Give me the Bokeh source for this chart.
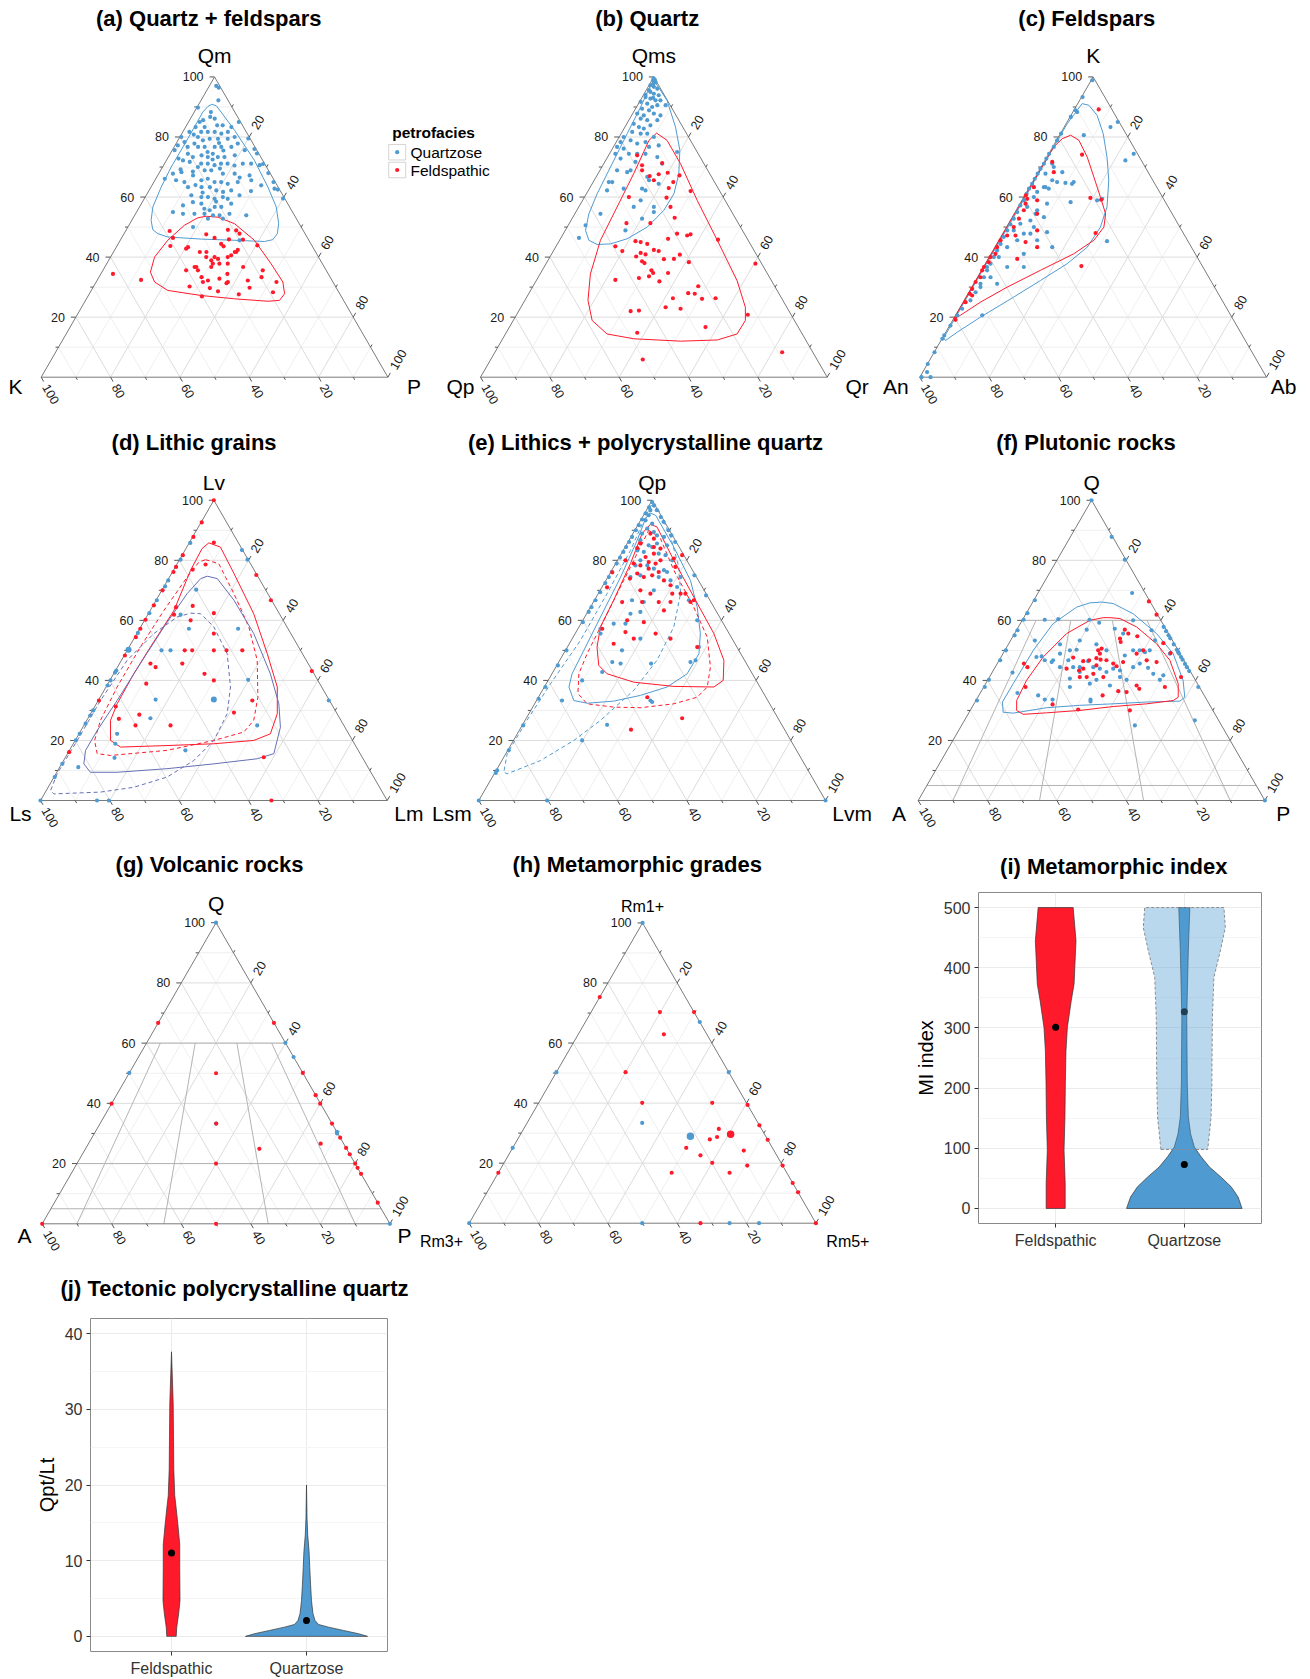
import numpy as np
from bokeh.plotting import figure
from bokeh.layouts import column, row
from bokeh.models import Range1d, FixedTicker
from bokeh.embed import file_html
from bokeh.resources import INLINE
from bokeh.core.properties import value

FONT = "Liberation Sans"
BLUE = "#4F9BD1"
RED = "#FF1A2B"
PURPLE = "#6670B5"

PETROFACIES = ["Quartzose", "Feldspathic"]
VIOLIN_CATS = ["Feldspathic", "Quartzose"]
TICK_VALUES = [20, 40, 60, 80, 100]
MINOR_VALUES = [10, 30, 50, 70, 90]
QAPF_Q = [60, 20, 5]
QAPF_RATIO = [10, 35, 65, 90]

# ---------------- data: (T, R) pairs in percent, L = 100 - T - R ----------------
# (a) Qm (top), K (left), P (right)
A_QTZ = [(97,2),(96.4,3.0),(92.2,5.0),(89.8,0.3),(88.3,4.8),(85.6,3.9),(86.7,5.4),(86.1,7.0),(85,3.2),(83.3,2.9),(83.3,5.5),(83.9,8.8),(83.9,10.4),(83.3,13.2),(85,14.5),(81.7,5.3),(81.7,7.2),(81.7,9.2),(81.1,11.4),(81.7,13),(80,15.8),(81.7,1.9),(80,5.2),(78.9,7.2),(79.4,8.9),(79.4,11.3),(79.4,14.1),(77.8,17.8),(79.5,20),(80,0.4),(77.2,0.8),(75.6,0.7),(76.7,3.9),(76.7,6.9),(76.7,8.8),(76.7,11.7),(76.7,13.6),(76.7,16.5),(74.4,5.1),(73.3,7.1),(73.9,9.3),(73.3,11.4),(74.4,12.3),(73.3,14.3),(73.3,16.2),(73.9,18.9),(75.6,20.9),(76,23.5),(74.5,25),(72.2,4.8),(71.1,10.6),(71.1,12.5),(70.6,14.7),(71.1,16.3),(71.1,18.2),(71.1,22.6),(71.1,25),(70.6,27.7),(71,28.5),(67.8,4.1),(68.3,6.3),(71.7,7),(70,10.2),(68.9,12.7),(68.9,14.6),(67.8,18.5),(67.8,21.9),(67.2,26.5),(68,31.5),(66.1,2.6),(65.6,6.1),(65,8.8),(67.2,10.2),(65.6,13.4),(66.1,15),(65,17.5),(65,19.4),(64.4,21.6),(65,24.2),(65.6,27.8),(63.9,31.5),(62.8,35.9),(65,34.5),(63.3,10.7),(63.3,14.6),(63.3,17),(62.2,19.4),(61.7,21.6),(62.2,23.7),(60.6,26.9),(62.5,37),(59.5,40),(60.6,13),(60,16.2),(60,18.1),(59.4,20.3),(60,22.4),(59.4,24.1),(57.2,12.3),(58.3,14.6),(57.8,17.3),(56.1,19),(55.6,20.8),(56.7,21.7),(56.7,23.6),(57.8,25.9),(55,10.5),(54.4,13.7),(54.4,17),(54.4,19.9),(53.9,22.6),(53.9,24.5),(54.4,27.1),(53.9,32.2),(50,18.8),(52.8,21.7),(52.8,26),(45.6,34.4),(78.3,2.2),(77.8,5.3),(75,10.5),(72.5,13.2),(69.5,16.8),(70.5,20.5),(68.5,9.5),(64,12.5),(61.5,15.8),(58.5,21.2),(75.5,14.8),(72.8,3.2),(69.2,5.6),(66.5,24),(62,29.5),(78,12.3),(80.8,3.6)]
A_FSP = [(48.7,12.7),(46.4,14.8),(43.7,15.4),(43.3,20.7),(42.8,20.4),(41.7,24.9),(47.6,23.8),(46.4,26.8),(49.1,29.3),(48.9,31.8),(47.8,33.3),(45.9,31.2),(45.8,35.3),(44.4,29.7),(43.6,30.8),(42.4,35.5),(41.7,35),(40.6,34.5),(40,27.6),(40,30),(38.9,29.6),(39.4,31.3),(37.8,30.6),(37.8,32.5),(40,33.8),(35.6,24),(36.7,26.4),(35.6,27.4),(33.3,29.6),(31.7,30.8),(32.2,32),(32.8,35),(34.4,36.5),(31.7,38),(36.7,39.9),(32.2,43.5),(29.8,45.2),(35.6,46.1),(33.3,46.9),(31.7,52),(28.3,52.7),(27.6,43.2),(28.6,36.7),(29.7,33.8),(26.9,32.9),(30.2,27.7),(32.4,12.6),(34.4,3.5),(43.9,40.4),(41.7,26.8),(36.7,25.9),(41.7,35.4),(37.8,34.9),(36.7,30.7),(31.3,37.8)]
A_QTZ_C = [(90.9,3.75),(90.4,5.3),(88.3,7.75),(82.2,14.7),(72.2,25.4),(63.3,33.75),(56.7,39.45),(51.1,42.95),(47.8,44.2),(45.8,43.9),(45.2,41.8),(45.6,33),(46,23.2),(46.7,13.15),(47.8,9.75),(49.1,7.65),(52.2,5.6),(56.7,3.85),(63.3,2.95),(70,2.5),(76.7,2.55),(83.3,2.55),(88.3,2.45),(90.2,3)]
A_FSP_C = [(53.6,20.8),(53.3,24.35),(51.1,30.25),(45.6,38.7),(37.8,47.4),(31.7,53.85),(27.8,56.3),(25.6,55.95),(25.3,52.75),(26.1,42.75),(27.2,32.6),(28.9,22.05),(31.7,16.85),(35,14),(40,12.7),(45.6,13.7),(50.6,16),(53.1,18.65)]

# (b) Qms (top), Qp (left), Qr (right)
B_QTZ = [(99.5,0.2),(99,0.8),(98.9,0.3),(98.3,1.35),(97.8,1.0),(97.2,0.4),(96.7,1.65),(96.1,2.95),(95.6,0.8),(95,1.5),(94.4,2.8),(94,0.6),(93.9,4.45),(93.3,0.95),(93,3.3),(92.8,2.6),(92.2,4.4),(92.2,5.8),(91.7,0.35),(91.1,2.55),(90,4.5),(90.6,5.7),(90.6,8.1),(89.4,1.9),(88.9,4.15),(87.8,1.3),(87.2,3.5),(87.8,6.1),(87.2,8.3),(86.1,3.15),(85.6,5.3),(85.6,8.2),(84.4,2),(83.3,4.05),(82.8,5.7),(83.9,7.05),(81.7,2.9),(81.1,5.65),(81.1,7.55),(80,10),(80,1.3),(78.3,1.25),(78.9,3.85),(77.8,6.3),(78.3,8.45),(76.7,10.25),(77.2,12.8),(76.7,1.05),(76.1,3.25),(74.4,1.7),(74.4,5.6),(74.4,8),(74.4,10.4),(73.3,14.35),(71.1,16.85),(75,19.2),(71.7,8.85),(68.9,4.95),(68.3,8.15),(68.9,8.85),(66.7,14.75),(64.4,19.2),(65.6,15.8),(65,4.5),(65,5.5),(62.2,5.4),(62.8,9.9),(62.8,15.2),(62.2,16.5),(56.7,15.85),(58.9,16.75),(55,22.5),(56.7,21.65),(54.4,7.4),(52.8,20.2),(50.6,5),(46.4,5.2),(48.9,17.35),(72.8,4)]
B_FSP = [(73.9,8.25),(70.6,11.3),(68.9,12.15),(67,15.3),(67.6,17.6),(65.6,17.2),(68.1,19.95),(65,23.1),(71.3,16.75),(67.2,23.8),(62,29.6),(63,22.8),(59.8,23.75),(56.7,26.45),(53.1,29.45),(60,12.8),(51.3,23.35),(51.3,16.45),(45.3,22.05),(44.4,25.9),(42.4,28.8),(42,30.4),(45,23.7),(43.6,17.1),(42,19.9),(40.2,24.8),(41.4,25.5),(40.9,27.15),(39.3,33.25),(39.4,36.1),(40.8,37.1),(38.3,40.95),(47.8,32.8),(46.1,31.05),(47.2,36),(47.6,36.8),(45.8,45.6),(38.6,27.3),(38,28.3),(35.6,31.5),(34.7,32.45),(33.6,31.8),(33,29.2),(31.9,35.65),(34.7,36.75),(32.4,22.7),(30.3,47.65),(28,45.9),(27.8,47.9),(26.3,42.35),(26.1,50.85),(26.3,54.65),(23.3,41.75),(22.8,46.3),(22,32.3),(22.2,34.6),(20.8,66.7),(16.7,56.55),(14.8,37.8),(5.9,43.85),(8.3,82.85),(37.8,60.4)]
B_QTZ_C = [(98.9,0.55),(92.2,7.7),(83.3,14.6),(75.6,19.7),(67.8,23.3),(61.1,25.25),(55.6,25.1),(50,23.1),(46.1,19.25),(44.4,15.3),(44.2,11.55),(45.6,8.45),(48.9,5.85),(54.4,4.05),(61.1,3.1),(70,2.5),(81.1,1.75),(90,1.2),(96.1,0.55)]
B_FSP_C = [(81.3,10.15),(78.9,14.35),(71.1,22.15),(58.9,33.05),(45.6,45.5),(32.2,57.9),(23.3,64.75),(18.9,66.95),(14.4,66.8),(12.4,62.1),(12,51.7),(12.8,37.8),(14.4,29.3),(18.9,22.75),(25.6,18.2),(34.4,14.5),(45.6,11.8),(56.7,11.05),(67.8,10.3),(78.9,9.15)]

# (c) K (top), An (left), Ab (right)
C_QTZ = [(98.9,0.3),(93.3,0.3),(88.3,1.25),(86.7,0.2),(81.1,0.2),(78.9,0.15),(76.7,0.3),(74.4,0.1),(72.8,0.1),(71.1,0.25),(69.4,0.1),(67.8,0.1),(66.1,0.1),(64.4,0.2),(62.8,0.1),(61.1,0.25),(58.9,0.55),(57.2,0.4),(55,0.6),(52.8,0.7),(50.9,0.7),(48.9,0.75),(46.7,0.85),(44.4,1.1),(42.2,1.2),(40,1.35),(37.8,1.5),(35.6,1.6),(33.3,1.85),(31.1,1.95),(28.3,1.95),(25.6,1.8),(22.8,0.8),(20.6,0.5),(17.2,0.25),(13.9,0.1),(12.8,0.1),(8.3,0.1),(4.4,0.1),(1.7,1.25),(0,0.5),(0,3.1),(88.9,0.45),(80.6,7),(83.3,13.35),(85,14.6),(72.2,23.2),(74.4,24.5),(68.3,6.95),(65.6,5.4),(65,7.1),(64.4,11.7),(64.7,9.65),(65,11.9),(62.8,5.8),(63.3,4.6),(60,2.9),(57.8,7.8),(58.3,14.35),(58.9,21.7),(59.4,22.9),(55.6,6.05),(54.4,6.2),(52.2,5.8),(53.3,9.15),(50,7.9),(47.8,6.1),(47.8,8),(45.6,11.05),(48.9,2.65),(51.1,3.45),(48.3,12.55),(43.3,16.55),(45.3,31.35),(41.1,9.45),(36.7,11.65),(40,2.8),(36.7,1.05),(33.3,3.75),(43.3,3.55),(20.6,7.7),(30,2.5),(63.3,4.15),(71.1,2.65),(70,3.65),(67.8,2.35),(61.7,3),(56.7,2.6),(45.6,5.3),(36.7,6.85),(31.1,6.75)]
C_FSP = [(89.2,7),(74.1,9.75),(71.7,2.35),(59.7,19.35),(59.1,22.75),(48,26.7),(37,28.1),(54.4,6.65),(57.8,1.6),(55.6,2.2),(52.8,2.2),(50,2.1),(47.2,4),(45,8),(39.4,8.4),(43.3,12.2),(48.9,9.4),(47.2,1.6),(45.6,0.5),(43.3,0.65),(41.1,1.25),(40,0.4),(38.3,0.75),(36.7,0.15),(35.6,0.2),(33.3,0.85),(31.7,0.25),(29.4,0.4),(27.8,0.5),(27.2,1.5),(25,0.7),(19.1,0.75),(63.3,1.25),(60.6,0.3),(59.4,1.3),(58.9,4.4),(68.3,4.5)]
C_QTZ_C = [(91.1,1.25),(90.6,3.45),(87.2,7.55),(81.1,12.35),(73.3,17.35),(65.6,21.7),(56.7,25.65),(50,27.1),(43.3,26.65),(37.8,23.6),(32.2,18.7),(26.7,13.75),(20,7.5),(15,3.3),(12.2,1.3),(13.1,0.35),(34.4,0.3),(53.3,0.45),(72.8,0.3),(84.4,0.3)]
C_FSP_C = [(19.4,0.1),(35,0.1),(53.9,0.15),(76.7,0.3),(79.4,1.35),(80.6,3.2),(78.9,6.45),(73.3,11.65),(66.7,16.85),(60,22.1),(54.4,26.4),(50,28.1),(45.6,27.4),(41.1,23.85),(35.6,17),(30,10.2),(25,5),(20.6,1.4)]

# (d) Lv (top), Ls (left), Lm (right)
D_QTZ = [(85.8,0.3),(80.2,0.3),(73.3,0.2),(71.3,0.3),(66.7,0.2),(62.4,0.2),(55.8,0.2),(43.3,0.2),(42.6,0.2),(40,0.2),(38.3,0.2),(30,0.2),(28.3,0.2),(25.6,0.2),(22.2,0.2),(20,0.2),(12.2,0.2),(7.8,0.2),(0,0),(0,16.3),(0,19.7),(83.4,16.4),(80.2,19.6),(33.3,66.5),(70.2,9.8),(57.2,14.2),(61.9,9.45),(50,9.9),(50,12.5),(57.2,28.4),(40.2,39.8),(33.6,16.4),(27.4,18),(22.2,11),(18.9,12.15),(16.7,33.45),(14.2,14.25),(11.1,5.35),(25,50)]
D_QTZ_MULTI = [(50.2,0.3),(33.6,33.2)]
D_FSP = [(100,0),(92.6,0.2),(87.8,0.2),(81.7,0.2),(77.8,0.2),(76.1,0.3),(70,0.2),(65,0.2),(60.2,0.2),(57.2,0.2),(54.4,0.3),(48.3,0.2),(33.3,0.2),(16.1,0.2),(75.1,24.7),(66.7,33.1),(43.1,56.7),(0,66.6),(85.9,7.05),(76.9,5.45),(78.6,8.3),(64.4,6.9),(61.9,7.55),(64.8,11.5),(62.4,18.8),(60,13.3),(55.6,22.2),(50,16.6),(50,18.75),(50,25),(50,28.65),(50,33.2),(45.6,8.9),(44.4,11),(45.6,18.1),(42.2,26.2),(40,30),(38.9,11.05),(33.3,44.45),(31.3,6.05),(27.2,9),(28.6,14.2),(25,14.9),(25,25),(29.3,41.15),(14.4,57.2)]
D_FSP_C1 = [(85.8,5.65),(84.4,9.7),(75.6,18),(62.2,30.4),(48.9,40.95),(37.8,49.4),(28.9,53.85),(22.2,55.2),(20,51.5),(18.9,40.55),(18.3,27.35),(17.8,14.2),(20,10.2),(26.7,6.85),(32.2,6),(42.2,5.8),(51.1,6.15),(63.3,6.85),(76.7,4.95),(83.9,4.65)]
D_FSP_C2 = [(80.2,7.5),(78.9,11.95),(68.9,21.35),(57.8,31.2),(46.7,39.15),(34.4,45.5),(26.7,48.15),(22.8,47.25),(20,40),(16.7,28.15),(15,12.7),(15.6,8.55),(20,5.6),(26.7,3.95),(37.8,3.2),(51.1,3.25),(63.3,3.95),(74.4,5.1),(79.4,6)]
D_QTZ_C1 = [(74.7,10.75),(73.9,14.05),(66.7,22.45),(55.6,33.7),(42.2,45.2),(32.2,52.65),(24.4,57),(15.6,59.5),(13.9,55.55),(12.2,43.9),(10.6,31.2),(9.4,17.4),(9.4,9.7),(12.2,6.4),(16.7,4.65),(23.3,4.7),(33.3,5.45),(45.6,6),(57.8,6.7),(68.9,7.85),(73.9,9.25)]
D_QTZ_C2 = [(62.4,12.1),(62.2,15.1),(57.8,21.1),(48.9,29.4),(37.8,35.9),(28.9,39.4),(20,40),(13.3,37.55),(7.8,32.6),(4.4,24.7),(2.8,15.9),(2.2,2.75),(3.3,1.25),(8.9,0.35),(20,0.6),(33.3,0.65),(46.7,1.65),(55.6,4.9),(61.1,8.85)]

# (e) Qp (top), Lsm (left), Lvm (right)
E_QTZ = [(99.4,0.3),(97.6,0.3),(95.6,0.3),(93.6,0.3),(91.7,0.3),(90,0.3),(87.8,0.3),(86.1,0.3),(84.4,0.3),(82.8,0.3),(80.9,0.3),(78.9,0.3),(76.1,0.3),(74.4,0.3),(72.4,0.3),(69.4,0.3),(66.7,0.3),(64.4,0.3),(62.8,0.3),(59.4,0.3),(50,0.3),(45,0.3),(37.8,0.3),(33.9,0.3),(25,0.3),(16.7,0.3),(10,0.3),(9.2,0.3),(0,0),(98.3,1.4),(96.7,3.0),(94.4,5.3),(92.8,6.9),(90,9.7),(88.3,11.4),(86.1,13.6),(75,24.7),(68.3,31.4),(0,100),(0,19.7),(96.7,1.15),(95,1.5),(93.3,1.45),(92.2,3.9),(90.6,3.3),(88.9,2.65),(89.4,5.8),(88.3,7.25),(87.8,9.5),(86.7,3.25),(85,6.5),(85.6,8.6),(85,11.8),(83.3,4.05),(82.8,6.2),(84.4,7.8),(82.2,10.8),(81.7,13),(80,15.8),(80,6.6),(78.3,6.05),(78.3,9.45),(77.2,11.9),(76.7,15.05),(74.4,6.55),(75,9.1),(74.4,14.7),(76.1,16.25),(74.4,21),(66.7,27.25),(60,33),(51.1,37.95),(46.7,39.15),(46.1,38),(66.7,10.85),(66.1,14.55),(70,15.5),(62.2,12.65),(62.8,15.2),(58.9,9.45),(58.9,12.85),(57.2,6.5),(55.6,7.3),(53.9,19.65),(50,16.3),(46.1,15.45),(45.6,18.1),(42.8,14.2),(40,9.8),(33.3,7.35),(45.6,26.9),(33.3,32.85),(32.8,33.6),(25.2,24.4),(20,19.8),(73.3,18.65),(71.1,21.65)]
E_FSP = [(88.9,5.05),(85.6,3.8),(87.2,6.9),(83.9,10.45),(84.1,3.65),(81.1,7.55),(80,2.3),(78.9,5.25),(78.3,7.45),(79.4,9.3),(78.9,11.55),(76.1,13.85),(80.6,15.95),(77.8,17.8),(81.7,17.8),(73.9,6.65),(74.4,10.4),(75,12.5),(73.3,16.75),(71.7,19.45),(68.9,21.35),(68.9,23.75),(68.9,25.15),(66.1,28),(68.9,15.05),(70,11.6),(66.1,14.05),(66.1,18.85),(66.1,22.25),(66.1,8.3),(60,12.8),(59.4,17.9),(63.3,21.75),(55.6,23.2),(53.9,28.35),(51.1,37.45),(56.1,14.25),(53.9,17.75),(52.2,12.8),(57.2,7),(34.4,31.4),(27.4,44.95),(23.6,32.1),(66.7,28.65),(84.4,8.3),(80,12.4),(82.2,9.4),(77.2,10.4),(75.6,7.9),(76,0.5),(71,1.5)]
E_QTZ_C1 = [(95.8,1.4),(95,3.5),(84.4,14.05),(73.3,24.4),(64.4,30.8),(55.6,36.1),(48.9,39.05),(42.2,39),(37.8,35.4),(35,29.1),(33.1,22.35),(32.4,15.05),(33.3,10.75),(37.8,7.1),(42.2,5.8),(50,5.3),(61.1,4.55),(74.4,3.7),(86.7,2.35),(93.9,1.15)]
E_QTZ_C2 = [(98.3,0.55),(96.7,3.55),(87.8,11.4),(77.8,18.8),(68.9,23.75),(57.8,27.35),(46.7,28.05),(36.7,26.35),(26.7,21.75),(20,17.4),(13.3,11.15),(8.9,3.75),(9.4,2.5),(15.6,0.4),(26.7,0.55),(38.9,1.25),(53.3,2.65),(68.9,2.55),(83.3,2.1),(93.3,0.95)]
E_FSP_C1 = [(92,3.5),(91.1,5.85),(80,16.25),(67.8,28.1),(55.6,40),(46.7,47.35),(40,50.5),(37.8,48.9),(38,37.25),(39.4,25),(42.2,15.9),(45,12.1),(51.1,8.55),(57.8,6.2),(66.7,5.55),(78.9,4.3),(88.9,2.65)]
E_FSP_C2 = [(90,4),(87.2,8.8),(76.7,17.9),(64.4,29.8),(54.4,38.7),(44.4,44.6),(37.8,47),(34.4,45.8),(32.2,40.15),(30.9,31.15),(31.1,23.35),(32.2,15.15),(35.6,10.8),(42.2,7.75),(48.9,6.8),(60,6.05),(73.3,5.15),(84.4,4.4)]

# (f) Q (top), A (left), P (right)
F_QTZ = [(66.7,0.3),(62.4,0.3),(60.2,0.3),(56.7,0.3),(55,0.3),(50,0.3),(46.7,0.3),(40.2,0.3),(37.8,0.3),(33.3,0.3),(87.8,11.9),(80.2,19.5),(57.8,41.9),(56.4,43.3),(55,44.7),(54,45.7),(52,47.7),(50.2,49.5),(49.5,50.2),(48.9,50.8),(47.8,51.9),(46.9,52.8),(45.5,54.2),(44.4,55.3),(43.1,56.6),(37.8,61.9),(100,0),(0,100),(69.1,27.15),(26.7,66.45),(25,50),(60.2,6.4),(60.4,10.2),(60.2,19.3),(59.2,22.6),(56.9,20.15),(57.2,28.1),(55.6,31.3),(60,32),(56.7,38.95),(53.3,41.65),(53.3,19.95),(52,14.9),(50,18.75),(50.2,20.6),(52,25.4),(50,29.3),(48.3,35.45),(50,37),(50,38.9),(49.4,40.7),(50,41.8),(48.9,48.15),(53.3,7),(48,11.6),(46.7,13.15),(47.8,10.2),(42.6,5.9),(35.8,10.75),(35,17.1),(33.6,19.7),(33.6,21.95),(46.7,15.55),(44.4,18.7),(46.7,19.95),(44.4,22.5),(44.4,24.4),(46.4,25.8),(44.4,28.3),(43.9,30.45),(42.8,32.9),(43.9,34.3),(43.3,36.55),(40.2,40),(44.4,39.8),(45.6,41.1),(44.2,44.2),(42.2,46.7),(40.2,49.6),(41.7,49.85),(40.6,23.45),(37.8,24.85),(38.9,30.05),(40.2,31.3),(38.3,36.15),(41.1,37.65),(33.6,32.9),(33,33.2),(42.8,25.2),(48.9,16.45),(46.1,15.45)]
F_FSP = [(66.3,33.4),(61.9,37.8),(45.6,7.7),(44.4,9.3),(37.8,12.05),(32,22.75),(30.3,31),(30,46.05),(47.6,20.9),(43.3,24.75),(46.4,24.4),(46.7,25.95),(47.4,27.7),(48.9,27.95),(50.6,27.6),(46.7,30.95),(42.2,29.4),(41.1,28.05),(41.1,32.85),(45.6,33.45),(44.7,34.85),(52.8,32),(53.9,31.25),(56.9,31.15),(55.6,32.8),(54.7,35.85),(48.9,38.55),(50,39.9),(46.7,42.55),(46.1,45.7),(52.4,44.5),(49.1,48.25),(37.8,52.25),(41.1,55.25),(38.3,43.85),(37.2,45.15),(36.4,39.5),(36.1,42.05),(35,35.7),(46.9,29.15),(45,28.9),(43.9,25.65),(43.9,20.85),(41.1,26.05),(50,26.9),(46.1,36.05)]
F_QTZ_C = [(66.1,19.85),(65.6,23.45),(62.2,30.9),(55.6,40.95),(48.9,49.1),(40,56.4),(34.4,59.7),(33.1,58.95),(32.8,49.5),(32.2,40.15),(31.7,30.75),(30.9,21.55),(29.1,12.85),(29.4,9.8),(32.8,7.9),(38.9,7.95),(50,8.2),(58.9,9.45),(64.4,13.5),(65.8,16.6)]
F_FSP_C = [(60.9,24.85),(60.6,27.9),(57.8,34.1),(52.2,42.65),(46.7,49.25),(38.9,55.55),(34.4,57.8),(33.3,56.9),(32.2,49.8),(31.3,40.6),(30,31.6),(29.2,22.4),(28.7,15.95),(30,13.4),(33.3,11.75),(40,11.25),(47.8,12.15),(55.6,15),(60,19.5),(60.9,22.95)]

# (g) Q (top), A (left), P (right)
G_QTZ = [(100,0),(50.1,0),(60.1,39.9),(55.4,44.6),(30.5,69.5),(30,69.8),(0,100),(33.3,33.35)]
G_FSP = [(66.7,0),(39.9,0),(0,0),(66.7,33.3),(50.1,49.9),(42.7,57.3),(39.9,60),(33.3,66.7),(28.6,71.4),(25.2,74.8),(23.1,76.9),(20,80),(18.6,81.4),(16.6,83.4),(7,93),(50,25),(33.3,33.4),(24.9,50),(26.6,66.8),(20,40),(0,50)]

# (h) Rm1+ (top), Rm3+ (left), Rm5+ (right)
H_QTZ = [(100,0),(50.3,0),(25.1,0),(0,0),(67,33),(50.3,49.7),(33.4,33.2),(0,49.9),(0,75.1),(0,83.6)]
H_QTZ_MULTI = [(29,49.3)]
H_FSP = [(75.3,0),(16.8,0),(70.3,19.85),(70.3,29.7),(62.9,24.7),(50.3,19.95),(40.1,29.85),(40.1,50.05),(39.4,60.6),(32.6,67.4),(27.8,72.2),(19.2,80.8),(13.4,86.6),(10.3,89.7),(0,100),(31.4,56.3),(28.7,57.15),(27.9,55.45),(25.1,50.05),(22.6,55.4),(20.1,60.05),(24.2,67.1),(19.2,70.6),(16.8,66.7),(16.8,50),(0,66.7)]
H_FSP_MULTI = [(29.6,60.6)]

# (i) Metamorphic index violins: value, half-width (category units)
MI_FSP_Y = [0, 41, 97, 152, 207, 262, 301, 345, 373, 445, 500]
MI_FSP_HW = [0.074, 0.074, 0.065, 0.072, 0.075, 0.080, 0.091, 0.121, 0.143, 0.158, 0.136]
MI_QTZ_Y = [0, 19, 36, 52, 69, 86, 102, 124, 152, 207, 317, 428, 500]
MI_QTZ_HW = [0.449, 0.418, 0.364, 0.286, 0.195, 0.130, 0.078, 0.049, 0.031, 0.023, 0.019, 0.031, 0.043]
MI_QTZ2_Y = [98, 108, 152, 207, 317, 384, 428, 467, 500]
MI_QTZ2_HW = [0.182, 0.187, 0.208, 0.214, 0.218, 0.230, 0.280, 0.319, 0.308]
MI_MED_X = [1, 2, 2]
MI_MED_Y = [301, 73, 327]

# (j) Tectonic polycrystalline quartz violins
QPT_FSP_Y = [0, 1.2, 3.0, 4.7, 9.1, 12.1, 14.3, 16.9, 18.6, 22.1, 26.5, 30.8, 37.6]
QPT_FSP_HW = [0.035, 0.039, 0.053, 0.063, 0.061, 0.061, 0.050, 0.035, 0.024, 0.017, 0.0148, 0.0126, 0.0]
QPT_QTZ_Y = [0, 0.35, 0.78, 1.22, 1.57, 2.1, 3.0, 4.7, 6.9, 9.1, 11.2, 13.4, 15.6, 20]
QPT_QTZ_HW = [0.452, 0.385, 0.274, 0.163, 0.089, 0.063, 0.048, 0.037, 0.030, 0.024, 0.019, 0.009, 0.004, 0.0]
QPT_MED_X = [1, 2]
QPT_MED_Y = [11, 2.1]

# ---------------- helpers ----------------
SQ3 = np.sqrt(3) / 2.0


def row_fig(w, h):
    f = figure(width=w, height=h, x_range=Range1d(0, w), y_range=Range1d(0, h),
               output_backend="svg", toolbar_location=None,
               x_axis_type=None, y_axis_type=None, min_border=0)
    f.outline_line_color = None
    f.background_fill_color = "white"
    f.border_fill_color = "white"
    f.frame_align = False
    return f


class Tern:
    def __init__(self, fig, Lx, Ly, S, xoff, ybot):
        self.f, self.Lx, self.Ly, self.S, self.xoff, self.ybot = fig, Lx, Ly, S, xoff, ybot

    def xy(self, T, R):
        T = np.asarray(T, dtype=float) / 100.0
        R = np.asarray(R, dtype=float) / 100.0
        x = self.Lx + self.S * (R + T / 2.0) - self.xoff
        y = self.ybot - (self.Ly - self.S * T * SQ3)
        return x, y

    def page(self, px, py):
        return px - self.xoff, self.ybot - py


def txt(f, x, y, s, size, align="center", baseline="middle", angle=0.0, bold=False, color="#1a1a1a"):
    f.text(x, y, text=s, text_font=value(FONT), text_font_size=size, text_align=align,
           text_baseline=baseline, angle=angle, text_color=color,
           text_font_style="bold" if bold else "normal")


def draw_frame(t, names, off, title, title_xy, vsize="21px", qapf=False):
    f = t.f
    for levels, col in ((MINOR_VALUES, "#efefef"), (TICK_VALUES[:-1], "#dcdcdc")):
        xs, ys = [], []
        for v in levels:
            for T, R in (([v, v], [0, 100 - v]), ([0, 100 - v], [v, v]), ([100 - v, 0], [0, 100 - v])):
                x, y = t.xy(T, R)
                xs.append(x)
                ys.append(y)
        f.multi_line(xs, ys, line_color=col, line_width=1)
    if qapf:
        xs, ys = [], []
        for q in QAPF_Q:
            x, y = t.xy([q, q], [0, 100 - q])
            xs.append(x)
            ys.append(y)
        top = QAPF_Q[0]
        for r in QAPF_RATIO:
            x, y = t.xy([top, 0], [(100 - top) * r / 100.0, r])
            xs.append(x)
            ys.append(y)
        f.multi_line(xs, ys, line_color="#b4b4b4", line_width=1)
    x, y = t.xy([100, 0, 0, 100], [0, 0, 100, 0])
    f.line(x, y, line_color="#7a7a7a", line_width=1)
    x0, y0, x1, y1 = [], [], [], []
    lt, ll, lr = ([], [], []), ([], [], []), ([], [], [])
    for v in range(10, 101, 10):
        major = v in TICK_VALUES
        ln = 5.0 if major else 3.0
        x, y = t.xy(v, 0)
        x0.append(x); y0.append(y); x1.append(x - ln); y1.append(y)
        if major:
            lt[0].append(x - 11); lt[1].append(y); lt[2].append(str(v))
        x, y = t.xy(0, 100 - v)
        x0.append(x); y0.append(y); x1.append(x + 0.5 * ln); y1.append(y - SQ3 * ln)
        if major:
            ll[0].append(x + 0.5 * 9); ll[1].append(y - SQ3 * 9); ll[2].append(str(v))
        x, y = t.xy(100 - v, v)
        x0.append(x); y0.append(y); x1.append(x + 0.5 * ln); y1.append(y + SQ3 * ln)
        if major:
            lr[0].append(x + 0.5 * 10); lr[1].append(y + SQ3 * 10); lr[2].append(str(v))
    f.segment(x0, y0, x1, y1, line_color="#555555", line_width=1)
    txt(f, lt[0], lt[1], lt[2], "12.5px", align="right")
    txt(f, ll[0], ll[1], ll[2], "12.5px", align="left", angle=-np.pi / 3)
    txt(f, lr[0], lr[1], lr[2], "12.5px", align="left", angle=np.pi / 3)
    top_dy, left_dx, right_dx, bot_dy = off
    xT, yT = t.xy(100, 0)
    xL, yL = t.xy(0, 0)
    xR, yR = t.xy(0, 100)
    txt(f, [float(xT), float(xL) + left_dx, float(xR) + right_dx],
        [float(yT) + top_dy, float(yL) - bot_dy, float(yR) - bot_dy], list(names), vsize, color="black")
    tx, ty = t.page(*title_xy)
    txt(f, [tx], [ty], [title], "22px", bold=True, color="black")


def pts(t, data, color, size=4.2):
    x, y = t.xy([p[0] for p in data], [p[1] for p in data])
    t.f.scatter(x, y, size=size, fill_color=color, line_color=None)


def contour(t, data, color, dash="solid"):
    d = list(data) + [data[0]]
    x, y = t.xy([p[0] for p in d], [p[1] for p in d])
    t.f.line(x, y, line_color=color, line_width=1, line_dash=dash)


# ---------------- row 1 ----------------
f1 = row_fig(1310, 420)
S = 346.7
ta = Tern(f1, 40.7, 376.7, S, 0, 420)
tb = Tern(f1, 480.0, 376.7, S, 0, 420)
tc = Tern(f1, 919.3, 376.7, S, 0, 420)
draw_frame(ta, ("Qm", "K", "P"), (21, -25.7, 26, 9), "(a) Quartz + feldspars", (208.3, 18.3))
draw_frame(tb, ("Qms", "Qp", "Qr"), (21, -20, 30, 9), "(b) Quartz", (646.7, 18.3))
draw_frame(tc, ("K", "An", "Ab"), (21, -24, 17, 9), "(c) Feldspars", (1086.3, 18.3))
contour(ta, A_QTZ_C, BLUE); contour(ta, A_FSP_C, RED)
pts(ta, A_QTZ, BLUE); pts(ta, A_FSP, RED)
contour(tb, B_QTZ_C, BLUE); contour(tb, B_FSP_C, RED)
pts(tb, B_QTZ, BLUE); pts(tb, B_FSP, RED)
contour(tc, C_QTZ_C, BLUE); contour(tc, C_FSP_C, RED)
pts(tc, C_QTZ, BLUE); pts(tc, C_FSP, RED)

# legend (a)
lx, ly = ta.page(396.7, 151.7)
f1.rect([lx, lx], [ly, ly - 17.8], width=17, height=15.5, fill_color="white", line_color="#d4d4d4")
f1.scatter([lx, lx], [ly, ly - 17.8], size=4.2, fill_color=[BLUE, RED], line_color=None)
gx, gy = ta.page(391.7, 131.7)
txt(f1, [gx], [gy], ["petrofacies"], "15.5px", align="left", bold=True, color="black")
txt(f1, [lx + 13.3, lx + 13.3], [ly, ly - 17.8], PETROFACIES, "15.5px", align="left", color="black")

# ---------------- row 2 ----------------
f2 = row_fig(1310, 430)
td = Tern(f2, 40.0, 800.0, S, 0, 850)
te = Tern(f2, 478.3, 800.0, S, 0, 850)
tf = Tern(f2, 917.7, 800.0, S, 0, 850)
draw_frame(td, ("Lv", "Ls", "Lm"), (17.6, -20, 21.6, 13), "(d)   Lithic grains", (199.7, 441.7))
draw_frame(te, ("Qp", "Lsm", "Lvm"), (17.6, -27, 26.7, 13), "(e) Lithics + polycrystalline quartz", (645.0, 441.7))
draw_frame(tf, ("Q", "A", "P"), (17.6, -19.3, 18.3, 13), "(f) Plutonic rocks", (1085.5, 441.7), qapf=True)
contour(td, D_FSP_C1, RED); contour(td, D_FSP_C2, RED, "4 3")
contour(td, D_QTZ_C1, PURPLE); contour(td, D_QTZ_C2, PURPLE, "4 3")
pts(td, D_QTZ, BLUE); pts(td, D_QTZ_MULTI, BLUE, 6); pts(td, D_FSP, RED)
contour(te, E_QTZ_C1, BLUE); contour(te, E_QTZ_C2, BLUE, "4 3")
contour(te, E_FSP_C1, RED); contour(te, E_FSP_C2, RED, "4 3")
pts(te, E_QTZ, BLUE); pts(te, E_FSP, RED)
contour(tf, F_QTZ_C, BLUE); contour(tf, F_FSP_C, RED)
pts(tf, F_QTZ, BLUE); pts(tf, F_FSP, RED)

# ---------------- row 3 ----------------
f3 = row_fig(873, 420)
tg = Tern(f3, 41.7, 1223.3, 347.7, 0, 1270)
th = Tern(f3, 468.7, 1222.7, S, 0, 1270)
draw_frame(tg, ("Q", "A", "P"), (19, -17.7, 14.7, 11.7), "(g) Volcanic rocks", (209.0, 864.0), qapf=True)
draw_frame(th, ("Rm1+", "Rm3+", "Rm5+"), (16.5, -27.7, 32, 18.5), "(h) Metamorphic grades", (636.7, 864.0), vsize="16px")
pts(tg, G_QTZ, BLUE); pts(tg, G_FSP, RED)
pts(th, H_QTZ, BLUE); pts(th, H_QTZ_MULTI, BLUE, 7.5)
pts(th, H_FSP, RED); pts(th, H_FSP_MULTI, RED, 7.5)


# ---------------- violins ----------------
def title_fig(w, h, title, cx, cy):
    f = row_fig(w, h)
    txt(f, [cx], [h - cy], [title], "22px", bold=True, color="black")
    return f


def violin_fig(w, h, yr, borders, ylabel, yticks, yminor):
    bl, br, bt, bb = borders
    p = figure(width=w, height=h, x_range=Range1d(0.4, 2.6), y_range=Range1d(*yr),
               output_backend="svg", toolbar_location=None, title=None,
               min_border_left=bl, min_border_right=br, min_border_top=bt, min_border_bottom=bb)
    p.frame_align = False
    p.xaxis.ticker = FixedTicker(ticks=[1, 2])
    p.xaxis.major_label_overrides = {1: VIOLIN_CATS[0], 2: VIOLIN_CATS[1]}
    p.yaxis.ticker = FixedTicker(ticks=yticks, minor_ticks=yminor)
    p.yaxis.axis_label = ylabel
    for ax in (p.xaxis[0], p.yaxis[0]):
        ax.axis_line_color = None
        ax.major_tick_line_color = "#333333"
        ax.major_tick_out = 4
        ax.major_tick_in = 0
        ax.minor_tick_line_color = None
        ax.major_label_text_font = FONT
        ax.major_label_text_font_size = "16px"
        ax.major_label_text_color = "#333333"
        ax.major_label_standoff = 4
        ax.axis_label_text_font = FONT
        ax.axis_label_text_font_size = "20px"
        ax.axis_label_text_font_style = "normal"
        ax.axis_label_text_color = "black"
        ax.axis_label_standoff = 4
    p.outline_line_color = "#8a8a8a"
    p.xgrid.grid_line_color = "#ebebeb"
    p.ygrid.grid_line_color = "#ebebeb"
    p.ygrid.minor_grid_line_color = "#f5f5f5"
    p.background_fill_color = "white"
    p.border_fill_color = "white"
    return p


def violin(p, c, ys, hws, fill, alpha=1.0, line="#333333", dash="solid", lw=0.7):
    ys = np.asarray(ys, dtype=float)
    hw = np.asarray(hws, dtype=float)
    x = np.concatenate([c - hw, (c + hw)[::-1]])
    y = np.concatenate([ys, ys[::-1]])
    p.patch(x, y, fill_color=fill, fill_alpha=alpha, line_color=line, line_width=lw, line_dash=dash)


ti = title_fig(437, 30, "(i) Metamorphic index", 240.3, 16.0)
pi_ = violin_fig(437, 390, (-25, 525), (105, 49, 12, 47), "MI index",
                 [0, 100, 200, 300, 400, 500], [50, 150, 250, 350, 450])
violin(pi_, 1, MI_FSP_Y, MI_FSP_HW, RED)
violin(pi_, 2, MI_QTZ_Y, MI_QTZ_HW, BLUE)
pi_.scatter(MI_MED_X, MI_MED_Y, size=7, fill_color="black", line_color=None)
violin(pi_, 2, MI_QTZ2_Y, MI_QTZ2_HW, BLUE, alpha=0.4, line="#8c8c8c", dash="3 2", lw=1)

tj = title_fig(437, 35, "(j) Tectonic polycrystalline quartz", 234.0, 18.3)
pj = violin_fig(437, 374, (-2, 42), (90, 50, 13, 24), "Qpt/Lt",
                [0, 10, 20, 30, 40], [5, 15, 25, 35])
violin(pj, 1, QPT_FSP_Y, QPT_FSP_HW, RED)
violin(pj, 2, QPT_QTZ_Y, QPT_QTZ_HW, BLUE)
pj.scatter(QPT_MED_X, QPT_MED_Y, size=7, fill_color="black", line_color=None)

layout = column(f1, f2, row(f3, column(ti, pi_, spacing=0), spacing=0),
                row(column(tj, pj, spacing=0), spacing=0), spacing=0)
open("out.html", "w").write(file_html(layout, INLINE))
